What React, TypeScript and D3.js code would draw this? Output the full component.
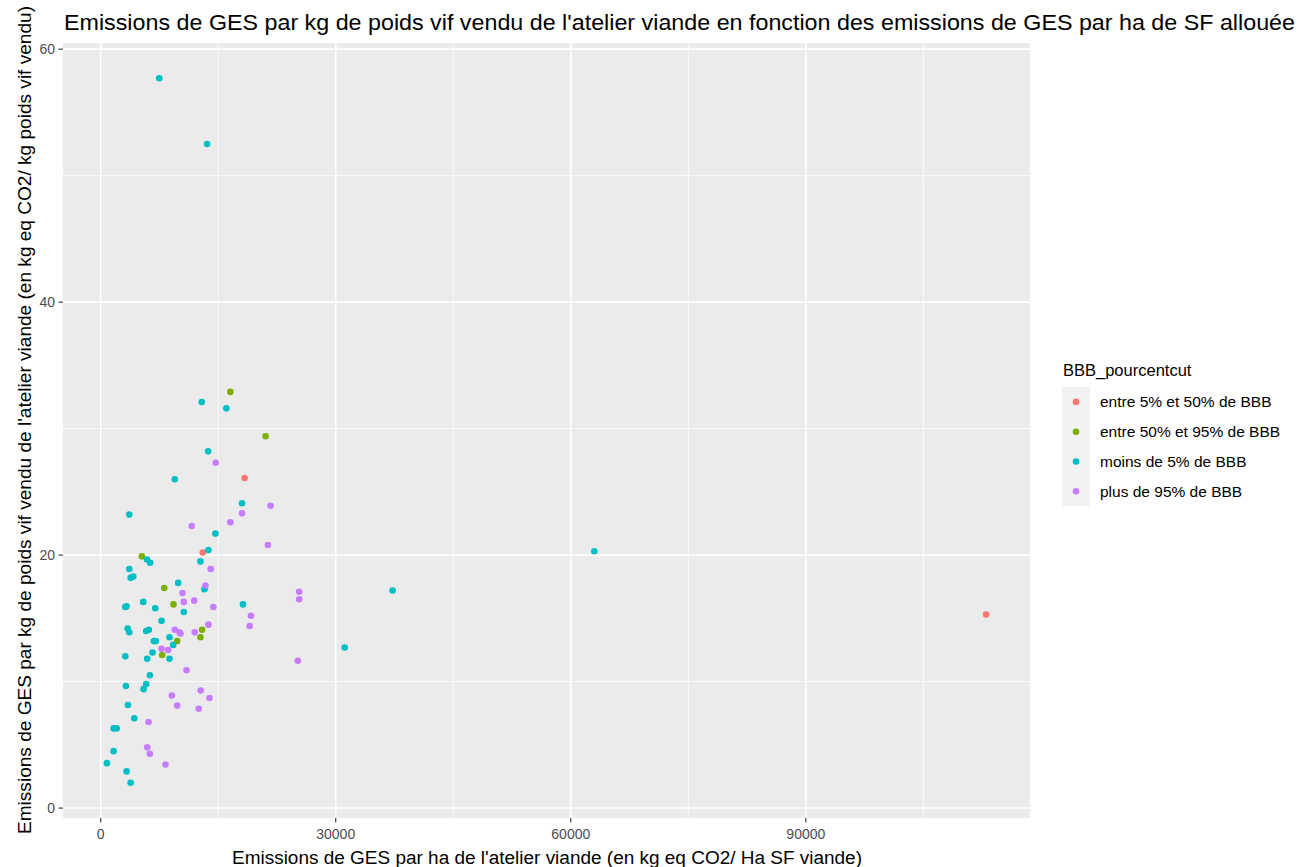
import React from "react";
import * as d3 from "d3";

const categories = [
  "entre 5% et 50% de BBB",
  "entre 50% et 95% de BBB",
  "moins de 5% de BBB",
  "plus de 95% de BBB",
];
const colors = ["#F8766D", "#7CAE00", "#00BFC4", "#C77CFF"];

// entre 5% et 50% de BBB
const redX = [18370, 13030, 113000];
const redY = [26.1, 20.2, 15.3];

// entre 50% et 95% de BBB
const oliveX = [16550, 21050, 5260, 8110, 9290, 12940, 12730, 9760, 7850];
const oliveY = [32.9, 29.4, 19.9, 17.4, 16.1, 14.1, 13.5, 13.2, 12.1];

// moins de 5% de BBB
const tealX = [
  7470, 13580, 12900, 16040, 13710, 9460, 18040, 3650, 14640, 13750, 5900, 6320,
  12730, 3650, 3820, 4160, 9890, 13240, 3140, 3310, 5430, 6960, 10610, 18160,
  7770, 3440, 3650, 5810, 6150, 8780, 6790, 7040, 9250, 6620, 3140, 5940, 8780,
  6280, 3220, 5810, 5470, 3480, 4290, 1650, 2040, 1650, 800, 3310, 3820, 63000,
  37260, 31150,
];
const tealY = [
  57.7, 52.5, 32.1, 31.6, 28.2, 26.0, 24.1, 23.2, 21.7, 20.4, 19.65, 19.4, 19.5,
  18.9, 18.2, 18.3, 17.8, 17.3, 15.9, 15.95, 16.3, 15.8, 15.5, 16.1, 14.8, 14.2,
  13.9, 14.0, 14.1, 13.5, 13.2, 13.2, 12.9, 12.3, 12.0, 11.8, 11.8, 10.5, 9.65,
  9.8, 9.4, 8.15, 7.1, 6.3, 6.3, 4.5, 3.55, 2.9, 2.0, 20.3, 17.2, 12.7,
];

// plus de 95% de BBB
const purpleX = [
  14680, 21680, 18040, 16550, 11620, 21340, 14040, 13370, 10440, 10610, 11930,
  14380, 19180, 19010, 13750, 9460, 10060, 10180, 12000, 7770, 8610, 10950,
  12770, 13880, 9080, 9760, 12510, 6110, 5940, 6280, 8270, 25330, 25330, 25160,
];
const purpleY = [
  27.3, 23.9, 23.3, 22.6, 22.3, 20.8, 18.9, 17.6, 17.0, 16.3, 16.4, 15.9, 15.2,
  14.4, 14.5, 14.1, 13.9, 13.8, 13.9, 12.6, 12.5, 10.9, 9.3, 8.7, 8.9, 8.1, 7.85,
  6.8, 4.8, 4.3, 3.45, 17.1, 16.5, 11.65,
];

const xMajor = [0, 30000, 60000, 90000];
const xMinor = [15000, 45000, 75000, 105000];
const yMajor = [0, 20, 40, 60];
const yMinor = [10, 30, 50];

const title =
  "Emissions de GES par kg de poids vif vendu de l'atelier viande en fonction des emissions de GES par ha de SF allouée";
const xTitle = "Emissions de GES par ha de l'atelier viande (en kg eq CO2/ Ha SF viande)";
const yTitle =
  "Emissions de GES par kg de poids vif vendu de l'atelier viande (en kg eq CO2/ kg poids vif vendu)";
const legendTitle = "BBB_pourcentcut";

const seriesX = [redX, oliveX, tealX, purpleX];
const seriesY = [redY, oliveY, tealY, purpleY];

function expand(ext: [number, number]): [number, number] {
  const r = ext[1] - ext[0];
  return [ext[0] - 0.05 * r, ext[1] + 0.05 * r];
}

export default function App() {
  const W = 1301;
  const H = 867;
  const left = 63;
  const right = 1030;
  const top = 43;
  const bottom = 818;

  const allX = seriesX.flat();
  const allY = seriesY.flat();
  const x = d3
    .scaleLinear()
    .domain(expand(d3.extent(allX) as [number, number]))
    .range([left, right]);
  const y = d3
    .scaleLinear()
    .domain(expand(d3.extent(allY) as [number, number]))
    .range([bottom, top]);

  const font = "'Liberation Sans', Arial, sans-serif";
  const tickColor = "#4D4D4D";

  const points: { cx: number; cy: number; c: string; k: string }[] = [];
  seriesX.forEach((xs, i) => {
    xs.forEach((v, j) => {
      points.push({ cx: x(v), cy: y(seriesY[i][j]), c: colors[i], k: `${i}-${j}` });
    });
  });

  const legendTop = 387;
  const keyH = 29.8;

  return (
    <svg
      width={W}
      height={H}
      style={{ position: "absolute", left: 0, top: 0, display: "block", background: "#fff" }}
      fontFamily={font}
    >
      <rect x={0} y={0} width={W} height={H} fill="#ffffff" />
      <text x={64} y={29.5} fontSize={22.5} fill="#000" textLength={1231} lengthAdjust="spacingAndGlyphs">
        {title}
      </text>
      <rect x={left} y={top} width={right - left} height={bottom - top} fill="#EBEBEB" />
      {xMinor.map((v) => (
        <line key={"xm" + v} x1={x(v)} x2={x(v)} y1={top} y2={bottom} stroke="#fff" strokeWidth={0.8} />
      ))}
      {yMinor.map((v) => (
        <line key={"ym" + v} x1={left} x2={right} y1={y(v)} y2={y(v)} stroke="#fff" strokeWidth={0.8} />
      ))}
      {xMajor.map((v) => (
        <line key={"xM" + v} x1={x(v)} x2={x(v)} y1={top} y2={bottom} stroke="#fff" strokeWidth={1.6} />
      ))}
      {yMajor.map((v) => (
        <line key={"yM" + v} x1={left} x2={right} y1={y(v)} y2={y(v)} stroke="#fff" strokeWidth={1.6} />
      ))}
      {points.map((p) => (
        <circle key={p.k} cx={p.cx} cy={p.cy} r={3.3} fill={p.c} />
      ))}
      {/* y axis ticks */}
      {yMajor.map((v) => (
        <g key={"yt" + v}>
          <line x1={left - 4.5} x2={left} y1={y(v)} y2={y(v)} stroke="#333" strokeWidth={1.1} />
          <text x={left - 8} y={y(v)} dy="0.35em" textAnchor="end" fontSize={14} fill={tickColor}>
            {v}
          </text>
        </g>
      ))}
      {/* x axis ticks */}
      {xMajor.map((v) => (
        <g key={"xt" + v}>
          <line x1={x(v)} x2={x(v)} y1={bottom} y2={bottom + 4.5} stroke="#333" strokeWidth={1.1} />
          <text x={x(v)} y={838.5} textAnchor="middle" fontSize={14} fill={tickColor}>
            {v}
          </text>
        </g>
      ))}
      <text x={547} y={864} textAnchor="middle" fontSize={18} fill="#000" textLength={630} lengthAdjust="spacingAndGlyphs">
        {xTitle}
      </text>
      <text
        transform={`translate(31,${420}) rotate(-90)`}
        textAnchor="middle"
        fontSize={18}
        fill="#000"
        textLength={828}
        lengthAdjust="spacingAndGlyphs"
      >
        {yTitle}
      </text>
      {/* legend */}
      <text x={1063} y={376} fontSize={16.5} fill="#000">
        {legendTitle}
      </text>
      {categories.map((c, i) => (
        <g key={c}>
          <rect x={1062} y={legendTop + i * keyH} width={28} height={keyH} fill="#F2F2F2" />
          <circle cx={1076} cy={legendTop + i * keyH + keyH / 2} r={3.3} fill={colors[i]} />
          <text x={1100} y={legendTop + i * keyH + keyH / 2} dy="0.35em" fontSize={15.5} fill="#000">
            {c}
          </text>
        </g>
      ))}
    </svg>
  );
}
